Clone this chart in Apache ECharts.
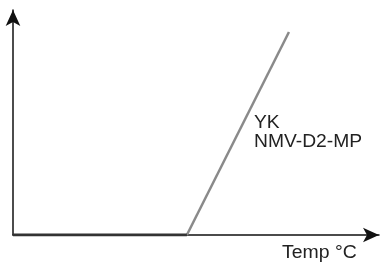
<!DOCTYPE html>
<html><head><meta charset="utf-8">
<script src="https://cdn.jsdelivr.net/npm/echarts@6/dist/echarts.min.js"></script>
<style>html,body{margin:0;padding:0;background:#fff}#c{width:382px;height:265px}</style>
</head><body><div id="c"></div>
<script>
const flatSegment = [[0, 0], [47.5, 0]];
const riseSegment = [[47.5, 0], [75.4, 90.2]];
const curveLabel = ['YK', 'NMV-D2-MP'];
const xAxisName = 'Temp °C';

const chart = echarts.init(document.getElementById('c'));
const font = '18px "Liberation Sans", Arial, sans-serif';
chart.setOption({
  animation: false,
  grid: {left: 13, right: 3, top: 10, bottom: 30},
  xAxis: {type: 'value', min: 0, max: 100,
    axisLine: {lineStyle: {color: '#111', width: 1.5}, symbol: ['none', 'arrow'], symbolSize: [11, 16]},
    axisTick: {show: false}, axisLabel: {show: false}, splitLine: {show: false}},
  yAxis: {type: 'value', min: 0, max: 100,
    axisLine: {lineStyle: {color: '#111', width: 1.5}, symbol: ['none', 'arrow'], symbolSize: [11, 16]},
    axisTick: {show: false}, axisLabel: {show: false}, splitLine: {show: false}},
  series: [
    {type: 'line', data: flatSegment, showSymbol: false, lineStyle: {color: '#333', width: 3}, z: 5},
    {type: 'line', data: riseSegment, showSymbol: false, lineStyle: {color: '#8a8a8a', width: 2.5}, z: 4}
  ],
  graphic: [
    {type: 'text', x: 254, y: 114, scaleX: 1.07, style: {text: curveLabel.join('\n'), font: font, fill: '#222', lineHeight: 19}},
    {type: 'text', x: 282, y: 244, scaleX: 1.08, style: {text: xAxisName, font: font, fill: '#222'}}
  ]
});
</script></body></html>
